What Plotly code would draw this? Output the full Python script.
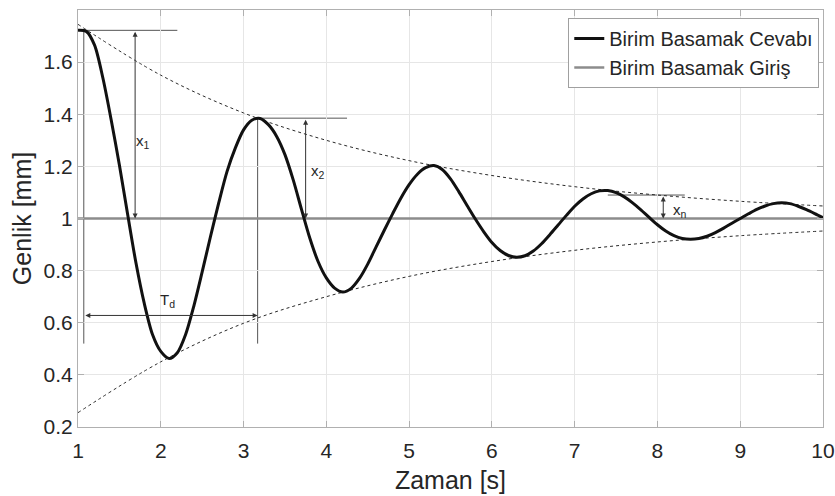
import plotly.graph_objects as go

# Unit step response of an under-damped system (sampled every 0.1 s)
t_resp = [1.0, 1.1, 1.2, 1.3, 1.4, 1.5, 1.6, 1.7, 1.8, 1.9,
          2.0, 2.1, 2.2, 2.3, 2.4, 2.5, 2.6, 2.7, 2.8, 2.9,
          3.0, 3.1, 3.2, 3.3, 3.4, 3.5, 3.6, 3.7, 3.8, 3.9,
          4.0, 4.1, 4.2, 4.3, 4.4, 4.5, 4.6, 4.7, 4.8, 4.9,
          5.0, 5.1, 5.2, 5.3, 5.4, 5.5, 5.6, 5.7, 5.8, 5.9,
          6.0, 6.1, 6.2, 6.3, 6.4, 6.5, 6.6, 6.7, 6.8, 6.9,
          7.0, 7.1, 7.2, 7.3, 7.4, 7.5, 7.6, 7.7, 7.8, 7.9,
          8.0, 8.1, 8.2, 8.3, 8.4, 8.5, 8.6, 8.7, 8.8, 8.9,
          9.0, 9.1, 9.2, 9.3, 9.4, 9.5, 9.6, 9.7, 9.8, 9.9, 10.0]
y_resp = [1.722, 1.718, 1.665, 1.540, 1.380, 1.205, 1.015, 0.830, 0.675, 0.555,
          0.490, 0.463, 0.485, 0.555, 0.665, 0.795, 0.930, 1.060, 1.180, 1.270,
          1.340, 1.377, 1.384, 1.360, 1.315, 1.245, 1.148, 1.035, 0.925, 0.835,
          0.772, 0.733, 0.718, 0.732, 0.770, 0.825, 0.890, 0.955, 1.018, 1.078,
          1.130, 1.170, 1.195, 1.203, 1.188, 1.152, 1.103, 1.050, 0.998, 0.950,
          0.908, 0.877, 0.858, 0.851, 0.857, 0.875, 0.903, 0.938, 0.975, 1.012,
          1.047, 1.075, 1.095, 1.106, 1.107, 1.099, 1.083, 1.060, 1.033, 1.004,
          0.976, 0.952, 0.934, 0.923, 0.920, 0.923, 0.932, 0.946, 0.963, 0.982,
          1.000, 1.018, 1.035, 1.048, 1.057, 1.060, 1.057, 1.047, 1.034, 1.019, 1.003]

# Unit step input
t_step = [1, 10]
y_step = [1, 1]

# Decay envelopes
t_env = [1, 2, 3, 4, 5, 6, 7, 8, 9, 10]
env_upper = [1.745, 1.550, 1.405, 1.300, 1.222, 1.165, 1.122, 1.090, 1.066, 1.048]
env_lower = [0.255, 0.450, 0.598, 0.700, 0.778, 0.835, 0.878, 0.910, 0.934, 0.952]

# Reference points for the dimension marks
peak_1 = (1.07, 1.722)
peak_2 = (3.17, 1.385)
peak_n = (8.07, 1.090)
x1_pos = 1.69
x2_pos = 3.75
td_level = 0.628
marker_bottom = 0.52

x_ticks = [1, 2, 3, 4, 5, 6, 7, 8, 9, 10]
y_ticks = [0.2, 0.4, 0.6, 0.8, 1.0, 1.2, 1.4, 1.6]
y_tick_text = ["0.2", "0.4", "0.6", "0.8", "1", "1.2", "1.4", "1.6"]

FONT = "Liberation Sans, Arial, Helvetica, sans-serif"
TXT = "#262626"
MARK = "#555555"

fig = go.Figure()

fig.add_trace(go.Scatter(x=t_env, y=env_upper, mode="lines", showlegend=False,
                         line=dict(color="#2a2a2a", width=1, dash="3px,3px", shape="spline")))
fig.add_trace(go.Scatter(x=t_env, y=env_lower, mode="lines", showlegend=False,
                         line=dict(color="#2a2a2a", width=1, dash="3px,3px", shape="spline")))
fig.add_trace(go.Scatter(x=t_step, y=y_step, mode="lines", name="Birim Basamak Giriş",
                         line=dict(color="#8c8c8c", width=2.5)))
fig.add_trace(go.Scatter(x=t_resp, y=y_resp, mode="lines", name="Birim Basamak Cevabı",
                         line=dict(color="#111111", width=3, shape="spline", smoothing=0.8)))

# Reference lines at peaks and period markers
shapes = [
    dict(type="line", x0=peak_1[0], x1=2.2, y0=peak_1[1], y1=peak_1[1]),
    dict(type="line", x0=peak_2[0], x1=4.25, y0=peak_2[1], y1=peak_2[1]),
    dict(type="line", x0=7.4, x1=8.33, y0=peak_n[1], y1=peak_n[1]),
    dict(type="line", x0=peak_1[0], x1=peak_1[0], y0=peak_1[1], y1=marker_bottom),
    dict(type="line", x0=peak_2[0], x1=peak_2[0], y0=peak_2[1], y1=marker_bottom),
]
for s in shapes:
    s.update(xref="x", yref="y", line=dict(color=MARK, width=1), layer="below")
fig.update_layout(shapes=shapes)


def dim_arrow(x0, y0, x1, y1):
    fig.add_annotation(x=x1, y=y1, ax=x0, ay=y0, xref="x", yref="y", axref="x", ayref="y",
                       text="", showarrow=True, arrowhead=2, startarrowhead=2,
                       arrowside="end+start", arrowsize=1, startarrowsize=1,
                       arrowwidth=1, arrowcolor="#333333")


dim_arrow(x1_pos, peak_1[1], x1_pos, 1.0)
dim_arrow(x2_pos, peak_2[1], x2_pos, 1.0)
dim_arrow(peak_n[0], peak_n[1], peak_n[0], 1.0)
dim_arrow(peak_1[0], td_level, peak_2[0], td_level)

labels = [
    (1.79, 1.295, "x<sub>1</sub>"),
    (3.90, 1.18, "x<sub>2</sub>"),
    (8.27, 1.03, "x<sub>n</sub>"),
    (2.08, 0.685, "T<sub>d</sub>"),
]
for lx, ly, lt in labels:
    fig.add_annotation(x=lx, y=ly, xref="x", yref="y", text=lt, showarrow=False,
                       font=dict(family=FONT, size=15, color=TXT))

axis_common = dict(showgrid=True, gridcolor="#e6e6e6", gridwidth=1,
                   showline=True, linecolor="#b0b0b0", linewidth=1, mirror="ticks",
                   ticks="inside", ticklen=6, tickcolor="#b0b0b0",
                   tickfont=dict(family=FONT, size=21, color=TXT), zeroline=False,
                   automargin=False)

fig.update_xaxes(range=[1, 10], tickvals=x_ticks, ticklabelstandoff=5,
                 title=dict(text="Zaman [s]", font=dict(family=FONT, size=25, color=TXT), standoff=10),
                 **axis_common)
fig.update_yaxes(range=[0.2, 1.8], tickvals=y_ticks, ticktext=y_tick_text,
                 title=dict(text="Genlik [mm]", font=dict(family=FONT, size=25, color=TXT), standoff=4),
                 **axis_common)

fig.update_layout(
    width=835, height=496,
    margin=dict(l=78, r=12, t=10, b=69),
    paper_bgcolor="white", plot_bgcolor="white",
    font=dict(family=FONT, color=TXT),
    legend=dict(x=0.995, y=0.981, xanchor="right", yanchor="top",
                bgcolor="white", bordercolor="#a0a0a0", borderwidth=1,
                font=dict(family=FONT, size=20, color=TXT),
                traceorder="reversed", tracegroupgap=0, itemwidth=30),
)

fig.write_html("out.html")
